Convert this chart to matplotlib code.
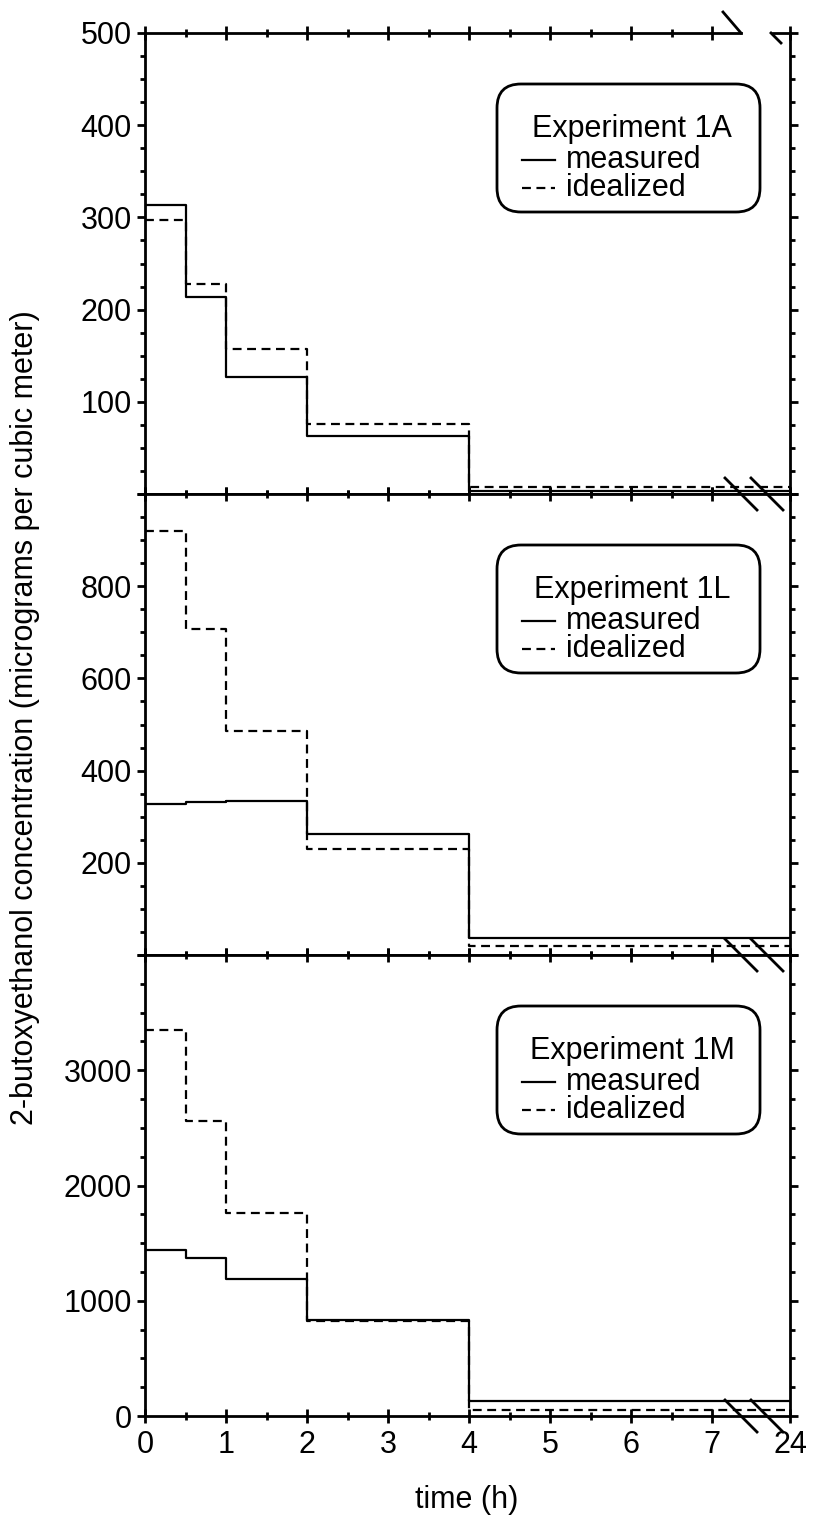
import numpy as np
import matplotlib
matplotlib.use('Agg')
import matplotlib.pyplot as plt
from matplotlib.patches import FancyBboxPatch
from matplotlib.lines import Line2D
from matplotlib.transforms import IdentityTransform
from matplotlib.ticker import MultipleLocator, FixedLocator, FixedFormatter

plt.rcParams['font.family'] = ['Liberation Sans', 'DejaVu Sans']

# ---------------- data ----------------
time_edges = [0, 0.5, 1, 2, 4, 24]
experiments = ['Experiment 1A', 'Experiment 1L', 'Experiment 1M']
measured_1A = [313, 214, 127, 63, 3]
idealized_1A = [297, 228, 157, 76, 8]
measured_1L = [328, 332, 333, 262, 37]
idealized_1L = [919, 707, 486, 230, 20]
measured_1M = [1440, 1370, 1190, 835, 130]
idealized_1M = [3350, 2560, 1760, 825, 55]
x_ticks = [0, 1, 2, 3, 4, 5, 6, 7, 24]
x_minor = [0.5, 1.5, 2.5, 3.5, 4.5, 5.5, 6.5]
y_max = [500, 1000, 4000]
y_major_step = [100, 200, 1000]
y_minor_step = [25, 50, 250]
y_labeled = [[100, 200, 300, 400, 500], [200, 400, 600, 800], [0, 1000, 2000, 3000]]
measured = [measured_1A, measured_1L, measured_1M]
idealized = [idealized_1A, idealized_1L, idealized_1M]

# broken time axis: 0-7 h linear, 7-24 h compressed
SEG = 0.96
def fwd(t):
    t = np.asarray(t, float)
    return np.where(t <= 7, t, 7 + (t - 7) * SEG / 17.0)
def inv(u):
    u = np.asarray(u, float)
    return np.where(u <= 7, u, 7 + (u - 7) * 17.0 / SEG)

W, H = 819, 1527
fig = plt.figure(figsize=(W / 100, H / 100), dpi=100)
fig.patch.set_facecolor('white')

LEFT, RIGHT = 145, 790
TOPS = [33, 494, 955]
PH = 461
FS = 22
LW_AX = 2.0
LW_D = 1.6
DASH = (0, (4, 2.5))

ident = IdentityTransform()

axes = []
for i in range(3):
    top = TOPS[i]
    ax = fig.add_axes([LEFT / W, 1 - (top + PH) / H, (RIGHT - LEFT) / W, PH / H])
    ax.set_xscale('function', functions=(fwd, inv))
    ax.set_xlim(0, 24)
    ax.set_ylim(0, y_max[i])
    m = measured[i] + [measured[i][-1]]
    d = idealized[i] + [idealized[i][-1]]
    ax.step(time_edges, d, where='post', color='black', lw=LW_D, linestyle=DASH)
    ax.step(time_edges, m, where='post', color='black', lw=LW_D)

    ax.xaxis.set_major_locator(FixedLocator(x_ticks))
    ax.xaxis.set_minor_locator(FixedLocator(x_minor))
    ax.xaxis.set_major_formatter(FixedFormatter([str(v) for v in x_ticks]))
    majors = list(np.arange(0, y_max[i] + 1, y_major_step[i]))
    ax.yaxis.set_major_locator(FixedLocator(majors))
    ax.yaxis.set_minor_locator(MultipleLocator(y_minor_step[i]))
    ax.set_yticklabels([str(int(v)) if int(v) in y_labeled[i] else '' for v in majors])

    ax.tick_params(axis='x', which='both', direction='inout', top=True, bottom=True,
                   width=LW_AX, labelsize=FS, pad=5)
    ax.tick_params(axis='x', which='major', length=10)
    ax.tick_params(axis='x', which='minor', length=6)
    ax.tick_params(axis='y', which='both', direction='out', left=True, right=True,
                   width=LW_AX, labelsize=FS)
    ax.tick_params(axis='y', which='major', length=6)
    ax.tick_params(axis='y', which='minor', length=3.5)
    if i < 2:
        ax.tick_params(axis='x', labelbottom=False)
    for s in ax.spines.values():
        s.set_linewidth(LW_AX)
    if i == 0:
        ax.spines['top'].set_visible(False)
    axes.append(ax)

    # legend box
    bt = top + 51
    bh = 128
    box = FancyBboxPatch((497, H - (bt + bh)), 263, bh,
                         boxstyle="round,pad=0,rounding_size=24",
                         transform=ident, facecolor='white', edgecolor='black',
                         linewidth=LW_AX, zorder=5)
    fig.add_artist(box)
    fig.text(632, H - (bt + 45), experiments[i], transform=ident, ha='center', va='center',
             fontsize=FS, zorder=6)
    fig.add_artist(Line2D([522, 555], [H - (bt + 76)] * 2, transform=ident, color='black',
                          lw=LW_D, zorder=6))
    fig.text(566, H - (bt + 76), 'measured', transform=ident, ha='left', va='center',
             fontsize=FS, zorder=6)
    fig.add_artist(Line2D([522, 555], [H - (bt + 104)] * 2, transform=ident, color='black',
                          lw=LW_D, linestyle=DASH, zorder=6))
    fig.text(566, H - (bt + 104), 'idealized', transform=ident, ha='left', va='center',
             fontsize=FS, zorder=6)

    # break marks at bottom boundary of each panel
    yb = H - (top + PH)
    for xc in (741, 767):
        fig.add_artist(Line2D([xc - 16, xc + 16], [yb + 16, yb - 16], transform=ident,
                              color='black', lw=LW_AX, zorder=7))

# top spine of the top panel with a gap
yt = H - TOPS[0]
fig.add_artist(Line2D([LEFT, 741], [yt, yt], transform=ident, color='black', lw=LW_AX))
fig.add_artist(Line2D([773, RIGHT], [yt, yt], transform=ident, color='black', lw=LW_AX))
fig.add_artist(Line2D([723, 741], [H - 12, yt], transform=ident, color='black', lw=LW_AX))
fig.add_artist(Line2D([771, 781], [yt, H - 43], transform=ident, color='black', lw=LW_AX))

fig.text(25 / W, 1 - 718 / H, '2-butoxyethanol concentration (micrograms per cubic meter)',
         rotation=90, ha='center', va='center', fontsize=FS)
fig.text(467 / W, 1 - 1500 / H, 'time (h)', ha='center', va='center', fontsize=FS)

fig.savefig('out.png', dpi=100, facecolor='white')
